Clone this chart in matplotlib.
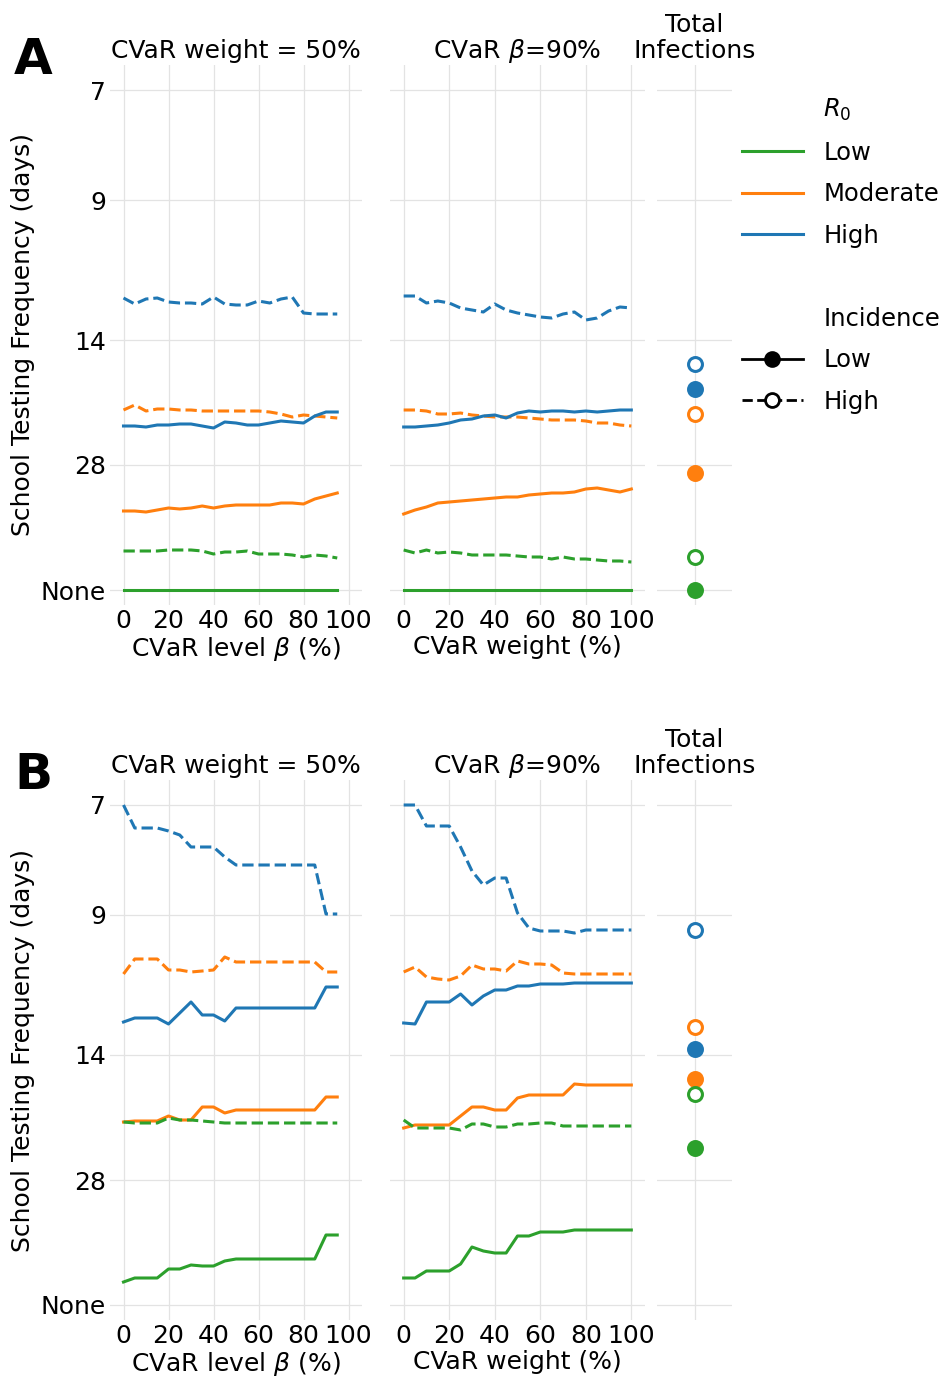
import numpy as np
import matplotlib.pyplot as plt
from matplotlib.lines import Line2D

# y positions of the categorical testing-frequency ticks
ytick_pos = [0, 1.1, 2.5, 3.75, 5.0]
ytick_lab = ['7', '9', '14', '28', 'None']

x_beta = np.arange(0, 100, 5)      # CVaR level beta (%)
x_w = np.arange(0, 105, 5)         # CVaR weight (%)

def p(vals, off):
    return (np.array(vals) - off) / 100.0

# ---- panel A (values read in frequency-position units) ----
A_left = {
    ('High', 'High'): p([298,304,299,298,302,303,303,304,297,304,305,305,301,303,299,297,313,314,314,314], 90),
    ('Moderate', 'High'): p([410,405,411,409,409,410,410,411,411,411,411,411,411,412,414,417,415,416,417,418], 90),
    ('High', 'Low'): p([426,426,427,425,425,424,424,426,428,422,423,425,425,423,421,422,423,416,412,412], 90),
    ('Moderate', 'Low'): p([511,511,512,510,508,509,508,506,508,506,505,505,505,505,503,503,504,499,496,493], 90),
    ('Low', 'High'): p([551,551,551,551,550,550,550,551,554,552,552,551,554,554,554,555,557,555,556,558], 90),
    ('Low', 'Low'): p([590]*20, 90),
}
A_right = {
    ('High', 'High'): p([296,296,303,301,303,308,310,312,304,310,313,315,317,318,314,312,320,318,311,307,308], 90),
    ('Moderate', 'High'): p([410,410,411,414,414,413,415,416,417,417,417,418,419,420,420,420,421,423,423,425,426], 90),
    ('High', 'Low'): p([427,427,426,425,423,420,419,416,415,418,413,411,412,411,411,412,411,412,411,410,410], 90),
    ('Moderate', 'Low'): p([514,510,507,503,502,501,500,499,498,497,497,495,494,493,493,492,489,488,490,492,489], 90),
    ('Low', 'High'): p([550,553,550,553,552,553,555,555,555,555,556,557,557,559,557,559,559,560,561,561,562], 90),
    ('Low', 'Low'): p([590]*21, 90),
}
A_total = {
    ('High', 'High'): p(364, 90), ('High', 'Low'): p(389, 90),
    ('Moderate', 'High'): p(414, 90), ('Moderate', 'Low'): p(473, 90),
    ('Low', 'High'): p(557, 90), ('Low', 'Low'): p(590, 90),
}

# ---- panel B ----
B_left = {
    ('High', 'High'): p([806,829,829,829,832,836,848,848,848,858,866,866,866,866,866,866,866,866,915,915], 806),
    ('Moderate', 'High'): p([975,960,960,960,971,971,973,972,971,958,963,963,963,963,963,963,963,963,973,973], 806),
    ('High', 'Low'): p([1023,1019,1019,1019,1025,1014,1003,1016,1016,1022,1009,1009,1009,1009,1009,1009,1009,1009,988,988], 806),
    ('Moderate', 'Low'): p([1123,1122,1122,1122,1117,1121,1121,1108,1108,1114,1111,1111,1111,1111,1111,1111,1111,1111,1098,1098], 806),
    ('Low', 'High'): p([1123,1124,1124,1124,1119,1121,1121,1122,1123,1124,1124,1124,1124,1124,1124,1124,1124,1124,1124,1124], 806),
    ('Low', 'Low'): p([1283,1279,1279,1279,1270,1270,1266,1267,1267,1262,1260,1260,1260,1260,1260,1260,1260,1260,1236,1236], 806),
}
B_right = {
    ('High', 'High'): p([806,806,827,827,827,848,872,886,879,879,914,929,932,932,932,934,931,931,931,931,931], 806),
    ('Moderate', 'High'): p([973,968,978,980,981,977,966,970,970,972,962,965,965,966,974,975,975,975,975,975,975], 806),
    ('High', 'Low'): p([1024,1025,1003,1003,1003,995,1006,997,991,991,987,987,985,985,985,984,984,984,984,984,984], 806),
    ('Moderate', 'Low'): p([1129,1126,1126,1126,1126,1117,1108,1108,1111,1111,1099,1096,1096,1096,1096,1085,1086,1086,1086,1086,1086], 806),
    ('Low', 'High'): p([1121,1129,1129,1129,1129,1131,1125,1125,1128,1128,1125,1125,1124,1124,1127,1127,1127,1127,1127,1127,1127], 806),
    ('Low', 'Low'): p([1279,1279,1272,1272,1272,1265,1248,1252,1254,1254,1237,1237,1233,1233,1233,1231,1231,1231,1231,1231,1231], 806),
}
B_total = {
    ('High', 'High'): p(931, 806), ('Moderate', 'High'): p(1028, 806),
    ('High', 'Low'): p(1050, 806), ('Moderate', 'Low'): p(1080, 806),
    ('Low', 'High'): p(1095, 806), ('Low', 'Low'): p(1149, 806),
}

colors = {'Low': '#2ca02c', 'Moderate': '#ff7f0e', 'High': '#1f77b4'}
styles = {'Low': '-', 'High': '--'}

W, H = 947, 1388
fig = plt.figure(figsize=(W / 100, H / 100), dpi=100)
FS = 18

def ax_px(x0, y0, x1, y1):
    return fig.add_axes([x0 / W, 1 - y1 / H, (x1 - x0) / W, (y1 - y0) / H])

def style(ax, xlim):
    ax.set_facecolor('white')
    for s in ax.spines.values():
        s.set_visible(False)
    ax.grid(True, color='#e3e3e3', lw=0.9)
    ax.set_axisbelow(True)
    ax.set_ylim(5.15, -0.25)
    ax.set_yticks(ytick_pos)
    ax.set_xlim(*xlim)
    ax.tick_params(length=0, labelsize=FS, pad=3)

def draw_panel(top, left_d, right_d, total_d, letter):
    a1 = ax_px(110, top, 362, top + 540)
    a2 = ax_px(390, top, 645, top + 540)
    a3 = ax_px(657, top, 732, top + 540)
    style(a1, (-6, 106))
    style(a2, (-6, 106))
    a1.set_yticklabels(ytick_lab)
    a2.set_yticklabels([])
    for (r0, inc), v in left_d.items():
        a1.plot(x_beta, v, color=colors[r0], ls=styles[inc], lw=2.2)
    for (r0, inc), v in right_d.items():
        a2.plot(x_w, v, color=colors[r0], ls=styles[inc], lw=2.2)
    for a in (a1, a2):
        a.set_xticks([0, 20, 40, 60, 80, 100])
    a1.set_xlabel(r'CVaR level $\beta$ (%)', fontsize=FS, labelpad=1)
    a2.set_xlabel('CVaR weight (%)', fontsize=FS, labelpad=1)
    a1.set_ylabel('School Testing Frequency (days)', fontsize=FS, labelpad=4)
    a1.set_title('CVaR weight = 50%', fontsize=FS, pad=5)
    a2.set_title(r'CVaR $\beta$=90%', fontsize=FS, pad=5)
    style(a3, (-1, 1))
    a3.set_xticks([0])
    a3.set_xticklabels([''])
    a3.set_yticklabels([])
    for (r0, inc), v in total_d.items():
        a3.plot([0], [v], 'o', ms=10, mew=2.2, color=colors[r0],
                mfc=colors[r0] if inc == 'Low' else 'white')
    a3.set_title('Total\nInfections', fontsize=FS, pad=5, linespacing=1.1)
    fig.text(14 / W, 1 - (top - 5) / H, letter, fontsize=36, fontweight='bold',
             va='center', ha='left')

draw_panel(65, A_left, A_right, A_total, 'A')
draw_panel(780, B_left, B_right, B_total, 'B')

handles = [Line2D([], [], color='none', label=r'$R_0$')]
for r0 in ['Low', 'Moderate', 'High']:
    handles.append(Line2D([], [], color=colors[r0], lw=2.2, label=r0))
handles.append(Line2D([], [], color='none', label=' '))
handles.append(Line2D([], [], color='none', label='Incidence'))
handles.append(Line2D([], [], color='black', ls='-', marker='o', ms=10, mew=2, lw=2, label='Low'))
handles.append(Line2D([], [], color='black', ls='--', marker='o', ms=10, mew=2, lw=2, mfc='white', label='High'))
leg = fig.legend(handles=handles, loc='upper left', bbox_to_anchor=(742 / W, 1 - 97 / H),
                 frameon=False, fontsize=17.5, handlelength=2.5, labelspacing=0.72,
                 handletextpad=0.85, borderaxespad=0, borderpad=0)

fig.savefig('out.png', dpi=100, facecolor='white')
